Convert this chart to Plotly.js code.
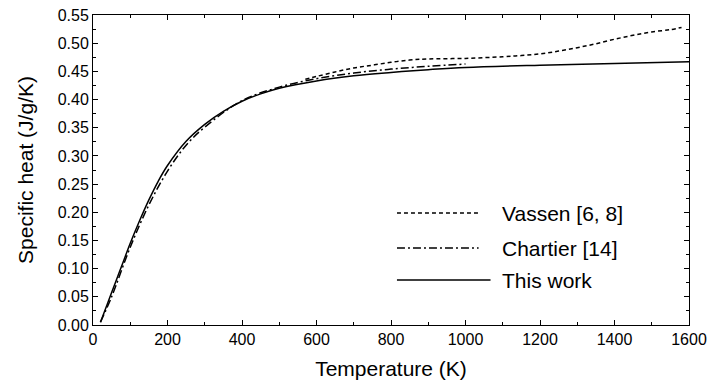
<!DOCTYPE html>
<html><head><meta charset="utf-8">
<script src="https://cdn.plot.ly/plotly-3.0.1.min.js"></script>
<style>html,body{margin:0;padding:0;background:#fff;}#chart{width:707px;height:388px;}</style>
</head><body><div id="chart"></div>
<script>
const seriesNames = ["Vassen [6, 8]", "Chartier [14]", "This work"];
const vassenT = [570, 600, 650, 700, 750, 800, 850, 900, 1000, 1100, 1150, 1200, 1250, 1300, 1350, 1400, 1450, 1500, 1550, 1580];
const vassenC = [0.436, 0.441, 0.449, 0.456, 0.461, 0.466, 0.470, 0.472, 0.473, 0.476, 0.478, 0.481, 0.486, 0.492, 0.499, 0.507, 0.514, 0.520, 0.524, 0.528];
const chartierT = [20, 50, 100, 150, 200, 250, 300, 400, 500, 600, 700, 800, 900, 1000];
const chartierC = [0.005, 0.05, 0.138, 0.213, 0.273, 0.319, 0.351, 0.398, 0.422, 0.437, 0.447, 0.454, 0.459, 0.463];
const workT = [20, 40, 60, 80, 100, 125, 150, 175, 200, 250, 300, 350, 400, 450, 500, 600, 700, 800, 900, 1000, 1200, 1400, 1600];
const workC = [0.005, 0.04, 0.075, 0.11, 0.145, 0.185, 0.222, 0.255, 0.283, 0.326, 0.356, 0.379, 0.397, 0.41, 0.42, 0.433, 0.442, 0.448, 0.453, 0.457, 0.461, 0.464, 0.467];
const xTicks = [0, 200, 400, 600, 800, 1000, 1200, 1400, 1600];
const yTicks = [0, 0.05, 0.10, 0.15, 0.20, 0.25, 0.30, 0.35, 0.40, 0.45, 0.50, 0.55];

const dashes = ["4px,3px", "8px,3px,2px,3px", "solid"];
const xs = [vassenT, chartierT, workT];
const ys = [vassenC, chartierC, workC];
const traces = xs.map((x, i) => ({
  x: x, y: ys[i], type: 'scatter', mode: 'lines', name: seriesNames[i],
  line: {color: '#000', width: 1.5, dash: dashes[i], shape: 'spline'},
  showlegend: false
}));

const font = {family: 'Liberation Sans, Arial, sans-serif', color: '#000'};
const axisCommon = {
  showline: true, linecolor: '#000', linewidth: 1, mirror: 'ticks',
  ticks: 'inside', ticklen: 5, tickcolor: '#000', tickwidth: 1,
  showgrid: false, zeroline: false, ticklabeloverflow: 'allow',
  tickfont: Object.assign({size: 16}, font),
  minor: {ticks: 'inside', ticklen: 3, tickcolor: '#000', tickwidth: 1}
};
const layout = {
  width: 707, height: 388,
  margin: {l: 93, r: 18, t: 15, b: 63},
  paper_bgcolor: '#fff', plot_bgcolor: '#fff',
  font: font,
  xaxis: Object.assign({}, axisCommon, {
    range: [0, 1600], tickvals: xTicks, ticktext: xTicks.map(String),
    minor: Object.assign({}, axisCommon.minor, {dtick: 100, tick0: 0}),
    title: {text: 'Temperature (K)', font: Object.assign({size: 21}, font), standoff: 14}
  }),
  yaxis: Object.assign({}, axisCommon, {
    range: [0, 0.55], tickvals: yTicks, ticktext: yTicks.map(v => v.toFixed(2)),
    minor: Object.assign({}, axisCommon.minor, {dtick: 0.025, tick0: 0}),
    title: {text: 'Specific heat (J/g/K)', font: Object.assign({size: 21}, font), standoff: 18}
  }),
  shapes: [],
  annotations: []
};
const legY = [0.361, 0.248, 0.145];
const legX1 = [0.647, 0.647, 0.667];
seriesNames.forEach((n, i) => {
  layout.shapes.push({type: 'line', xref: 'paper', yref: 'paper', x0: 0.51, x1: legX1[i], y0: legY[i], y1: legY[i],
    line: {color: '#000', width: 1.5, dash: dashes[i]}});
  layout.annotations.push({xref: 'paper', yref: 'paper', x: 0.683, y: legY[i], xanchor: 'left', yanchor: 'middle',
    text: n, showarrow: false, font: Object.assign({size: 21}, font)});
});
Plotly.newPlot('chart', traces, layout, {displayModeBar: false, staticPlot: true});
</script></body></html>
